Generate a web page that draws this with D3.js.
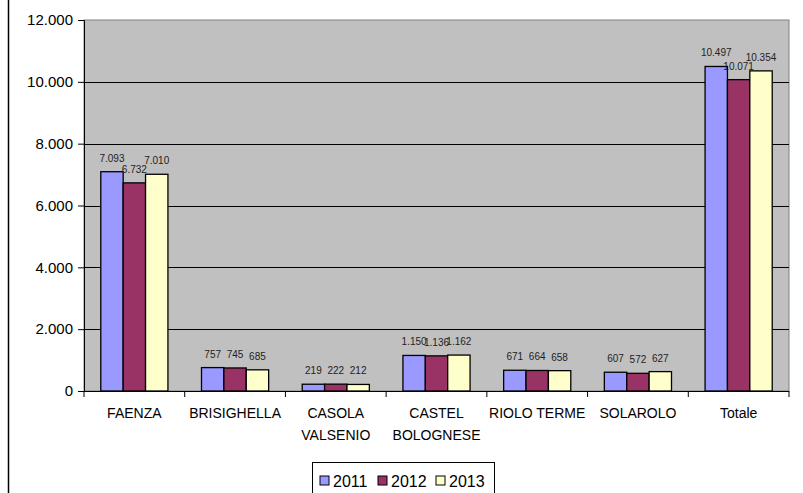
<!DOCTYPE html>
<html>
<head>
<meta charset="utf-8">
<script src="https://cdn.jsdelivr.net/npm/d3@7"></script>
<style>
  html, body { margin: 0; padding: 0; background: #fff; }
  svg { display: block; font-family: "Liberation Sans", Arial, sans-serif; }
</style>
</head>
<body>
<svg id="chart" width="803" height="493"></svg>
<script>
// Comuni of the union and the total
const categories = [["FAENZA"], ["BRISIGHELLA"], ["CASOLA", "VALSENIO"], ["CASTEL", "BOLOGNESE"], ["RIOLO TERME"], ["SOLAROLO"], ["Totale"]];
const years = ["2011", "2012", "2013"];
const values2011 = [7093, 757, 219, 1150, 671, 607, 10497];
const values2012 = [6732, 745, 222, 1136, 664, 572, 10071];
const values2013 = [7010, 685, 212, 1162, 658, 627, 10354];
const yTicks = [0, 2000, 4000, 6000, 8000, 10000, 12000];
const colors = ["#9999ff", "#993366", "#ffffcc"];

const series = [values2011, values2012, values2013];
const fmt = v => d3.format(",")(v).replace(/,/g, ".");

const svg = d3.select("#chart");
const plot = { left: 84, right: 789, top: 20, bottom: 391 };

const x = d3.scaleBand()
  .domain(d3.range(categories.length))
  .range([plot.left, plot.right])
  .paddingInner(0)
  .paddingOuter(0);
const inner = d3.scaleBand()
  .domain(d3.range(years.length))
  .range([0, x.bandwidth()])
  .paddingOuter(0.75)
  .paddingInner(0);
const y = d3.scaleLinear().domain([0, 12000]).range([plot.bottom, plot.top]);

// outer chart frame (left edge)
svg.append("line")
  .attr("x1", 8.5).attr("x2", 8.5).attr("y1", 0).attr("y2", 493)
  .attr("stroke", "#000").attr("stroke-width", 1.5);

// plot area
svg.append("rect")
  .attr("x", plot.left).attr("y", plot.top)
  .attr("width", plot.right - plot.left).attr("height", plot.bottom - plot.top)
  .attr("fill", "#c0c0c0").attr("stroke", "#808080").attr("stroke-width", 1);

// gridlines
svg.append("g").selectAll("line")
  .data(yTicks.filter(t => t > 0 && t < 12000))
  .join("line")
  .attr("x1", plot.left).attr("x2", plot.right)
  .attr("y1", d => Math.round(y(d)) + 0.5).attr("y2", d => Math.round(y(d)) + 0.5)
  .attr("stroke", "#000").attr("stroke-width", 1);

// y axis
const yAxis = d3.axisLeft(y).tickValues(yTicks).tickSize(6).tickPadding(5).tickFormat(fmt);
const gy = svg.append("g").attr("transform", `translate(${plot.left},0)`).call(yAxis);
gy.select(".domain").attr("stroke", "#000");
gy.selectAll(".tick line").attr("stroke", "#000");
gy.selectAll(".tick text")
  .attr("font-size", 15).attr("fill", "#000")
  .attr("font-family", "'Liberation Sans', Arial, sans-serif");

// bars
series.forEach((vals, s) => {
  svg.append("g").selectAll("rect")
    .data(vals)
    .join("rect")
    .attr("x", (d, i) => x(i) + inner(s))
    .attr("y", d => y(d))
    .attr("width", inner.bandwidth())
    .attr("height", d => y(0) - y(d))
    .attr("fill", colors[s])
    .attr("stroke", "#000").attr("stroke-width", 1.3);
});

// value labels
series.forEach((vals, s) => {
  svg.append("g").selectAll("text")
    .data(vals)
    .join("text")
    .attr("x", (d, i) => x(i) + inner(s) + inner.bandwidth() / 2)
    .attr("y", d => y(d) - 10)
    .attr("text-anchor", "middle")
    .attr("font-size", 10)
    .attr("fill", "#222")
    .text(d => fmt(d));
});

// x axis
const gx = svg.append("g").attr("transform", `translate(0,${plot.bottom})`);
gx.append("line").attr("x1", plot.left).attr("x2", plot.right)
  .attr("y1", 0.5).attr("y2", 0.5).attr("stroke", "#000");
gx.selectAll("line.tick")
  .data(d3.range(categories.length + 1))
  .join("line").attr("class", "tick")
  .attr("x1", i => (i < categories.length ? x(i) : plot.right))
  .attr("x2", i => (i < categories.length ? x(i) : plot.right))
  .attr("y1", 0).attr("y2", 6).attr("stroke", "#000");
const labels = gx.selectAll("text")
  .data(categories)
  .join("text")
  .attr("text-anchor", "middle")
  .attr("font-size", 14)
  .attr("fill", "#000")
  .attr("transform", (d, i) => `translate(${x(i) + x.bandwidth() / 2},27)`);
labels.selectAll("tspan")
  .data(d => d)
  .join("tspan")
  .attr("x", 0)
  .attr("dy", (d, j) => (j === 0 ? 0 : 22))
  .text(d => d);

// legend
const legend = svg.append("g").attr("transform", "translate(312,462)");
legend.append("rect")
  .attr("x", 0.5).attr("y", 0.5).attr("width", 182).attr("height", 34)
  .attr("fill", "#fff").attr("stroke", "#000");
const item = legend.selectAll("g.item")
  .data(years)
  .join("g").attr("class", "item")
  .attr("transform", (d, i) => `translate(${8 + i * 58},0)`);
item.append("rect")
  .attr("x", 0).attr("y", 14).attr("width", 9).attr("height", 9)
  .attr("fill", (d, i) => colors[i]).attr("stroke", "#000");
item.append("text")
  .attr("x", 13).attr("y", 24.5)
  .attr("font-size", 16).attr("fill", "#000")
  .text(d => d);
</script>
</body>
</html>
